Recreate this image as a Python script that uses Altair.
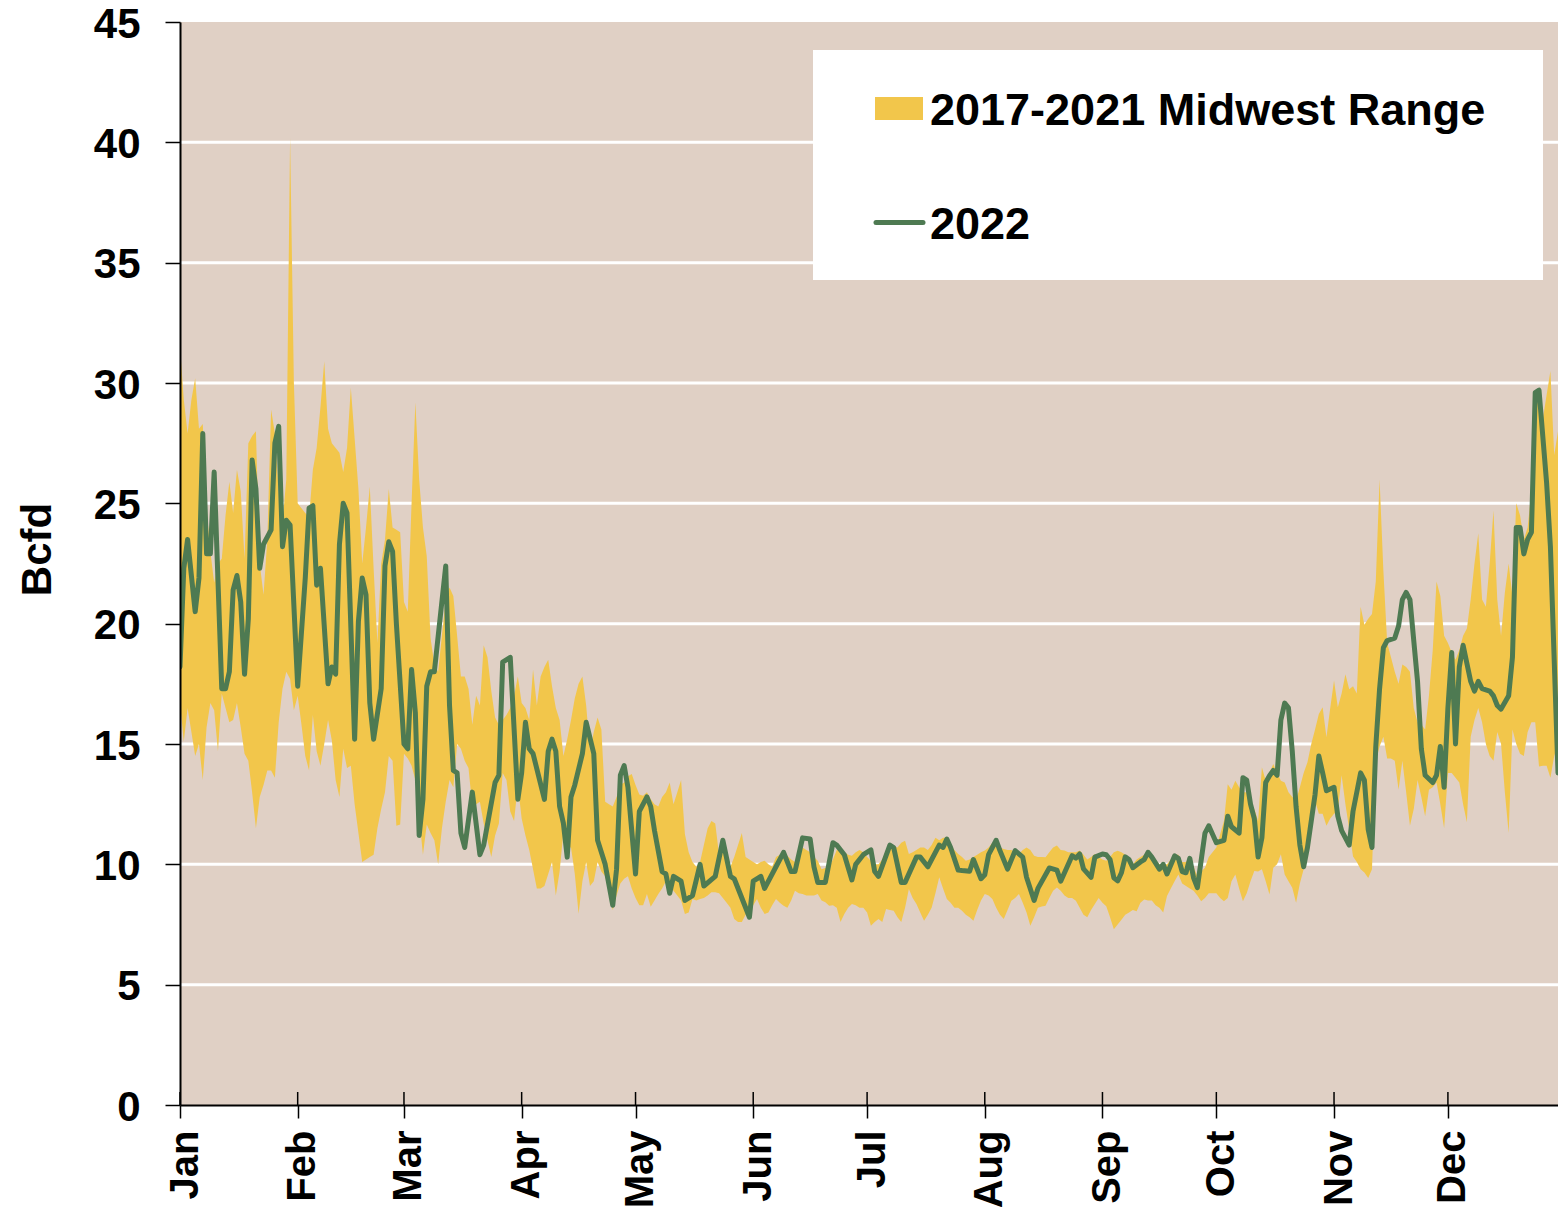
import json
import altair as alt
import pandas as pd

# ---------------- data ----------------
MONTHS = ["Jan", "Feb", "Mar", "Apr", "May", "Jun", "Jul", "Aug", "Sep", "Oct", "Nov", "Dec"]
MONTH_START_DAY = [0, 31, 59, 90, 120, 151, 181, 212, 243, 273, 304, 334]
Y_TICKS = [0, 5, 10, 15, 20, 25, 30, 35, 40, 45]
LEGEND_LABELS = ["2017-2021 Midwest Range", "2022"]

# 2022 daily series (day of year, Bcfd)
LINE_DAY = [0, 1, 2, 4, 5, 6, 7, 8, 9, 11, 12, 13, 14, 15, 16, 17, 18, 19, 20, 21, 22, 24, 25, 26, 27, 28, 29, 31,
            33, 34, 35, 36, 37, 39, 40, 41, 42, 43, 44, 46, 47, 48, 49, 50, 51, 53, 54, 55, 56, 57, 59, 60, 61, 62,
            63, 64, 65, 66, 67, 70, 71, 72, 73, 74, 75, 77, 79, 80, 83, 84, 85, 87, 89, 90, 91, 92, 93, 96, 97, 98,
            99, 100, 101, 102, 103, 104, 106, 107, 109, 110, 112, 114, 115, 116, 117, 118, 120, 121, 122, 123, 124,
            125, 127, 128, 129, 130, 132, 133, 135, 137, 138, 141, 143, 145, 146, 150, 151, 153, 154, 157, 159, 161,
            162, 164, 166, 167, 168, 170, 172, 173, 175, 177, 178, 180, 182, 183, 184, 187, 188, 190, 191, 194, 195,
            197, 200, 201, 202, 203, 205, 206, 208, 209, 211, 212, 213, 215, 216, 218, 220, 222, 223, 225, 226, 229,
            231, 232, 235, 236, 237, 238, 240, 241, 243, 244, 245, 246, 247, 248, 249, 250, 251, 253, 254, 255, 256,
            258, 259, 260, 262, 263, 264, 265, 266, 267, 268, 270, 271, 273, 275, 276, 277, 279, 280, 281, 282, 283,
            284, 285, 286, 287, 288, 289, 290, 291, 292, 293, 294, 295, 296, 297, 299, 300, 301, 302, 304, 305, 306,
            308, 309, 311, 312, 313, 314, 315, 316, 317, 318, 320, 321, 322, 323, 324, 326, 327, 328, 330, 331, 332,
            333, 334, 335, 336, 337, 338, 340, 341, 342, 343, 345, 346, 347, 348, 350, 351, 352, 353, 354, 355, 356,
            357, 358, 360, 361, 363, 364, 365]
LINE_BCFD = [18.2, 22.3, 23.5, 20.5, 21.9, 27.9, 22.9, 22.9, 26.3, 17.3, 17.3, 18.0, 21.4, 22.0, 20.9, 17.9, 20.2,
             26.8, 25.6, 22.3, 23.3, 23.9, 27.5, 28.2, 23.2, 24.3, 24.1, 17.4, 21.9, 24.8, 24.9, 21.6, 22.3, 17.5,
             18.2, 17.9, 23.3, 25.0, 24.6, 15.2, 20.1, 21.9, 21.2, 16.7, 15.2, 17.3, 22.4, 23.4, 23.0, 20.0, 15.0,
             14.8, 18.1, 16.3, 11.2, 12.7, 17.4, 18.0, 18.0, 22.4, 16.6, 13.9, 13.8, 11.3, 10.7, 13.0, 10.4, 10.8,
             13.4, 13.7, 18.4, 18.6, 12.7, 13.8, 15.9, 14.8, 14.6, 12.7, 14.7, 15.2, 14.7, 12.4, 11.7, 10.3, 12.8,
             13.3, 14.6, 15.9, 14.6, 11.0, 10.0, 8.3, 9.8, 13.7, 14.1, 13.2, 9.6, 12.2, 12.5, 12.8, 12.4, 11.4, 9.7,
             9.6, 8.8, 9.5, 9.3, 8.5, 8.7, 10.0, 9.1, 9.5, 11.0, 9.5, 9.4, 7.8, 9.3, 9.5, 9.0, 9.9, 10.5, 9.7, 9.7,
             11.1, 11.05, 9.9, 9.25, 9.25, 10.9, 10.8, 10.4, 9.35, 10.0, 10.4, 10.6, 9.7, 9.5, 10.8, 10.7, 9.25,
             9.25, 10.3, 10.3, 9.9, 10.8, 10.7, 11.05, 10.7, 9.76, 9.74, 9.71, 10.2, 9.4, 9.57, 10.4, 11.0, 10.57,
             9.8, 10.57, 10.3, 9.46, 8.5, 9.0, 9.85, 9.76, 9.3, 10.36, 10.26, 10.43, 9.81, 9.46, 10.3, 10.43, 10.4,
             10.2, 9.44, 9.31, 9.65, 10.31, 10.2, 9.86, 10.1, 10.2, 10.5, 10.3, 9.8, 10.0, 9.6, 10.35, 10.25, 9.7,
             9.65, 10.25, 9.44, 9.03, 11.3, 11.6, 10.9, 11.0, 12.0, 11.56, 11.3, 13.6, 13.5, 12.5, 11.9, 10.3, 11.1,
             13.4, 13.68, 13.9, 13.7, 16.0, 16.7, 16.5, 14.7, 12.4, 10.8, 9.9, 10.7, 12.9, 14.5, 13.8, 13.06, 13.2,
             12.0, 11.4, 10.8, 12.2, 13.8, 13.5, 11.45, 10.7, 14.9, 17.3, 19.0, 19.3, 19.4, 19.9, 21.0, 21.3, 21.0,
             17.6, 14.8, 13.7, 13.4, 13.7, 14.9, 13.2, 16.5, 18.8, 15.0, 18.2, 19.1, 17.6, 17.2, 17.6, 17.3, 17.2,
             17.0, 16.6, 16.45, 17.0, 18.6, 24.0, 24.0, 22.9, 23.5, 23.8, 29.6, 29.7, 25.85, 23.2, 13.8, 14.0, 15.5]

# 2017-2021 range (daily max / min)
BAND_DAY = list(range(366))
BAND_HIGH = [31.5, 29.3, 27.9, 29.3, 30.2, 28.1, 28.3, 24.8, 23.0, 21.7, 22.5, 22.7, 24.5, 25.9, 24.6, 26.4, 25.5,
             22.7, 27.5, 27.8, 28.0, 22.5, 21.2, 23.5, 28.9, 27.9, 25.5, 24.2, 26.0, 40.2, 30.0, 25.0, 24.8, 24.6,
             24.4, 26.4, 27.3, 29.0, 30.9, 28.1, 27.5, 27.3, 27.1, 26.3, 27.3, 29.8, 27.7, 25.6, 22.5, 24.0, 25.7,
             22.3, 19.2, 22.5, 23.5, 25.6, 24.0, 23.9, 23.8, 20.9, 20.5, 25.0, 29.2, 26.0, 24.0, 22.8, 19.4, 18.3,
             18.0, 19.5, 21.0, 21.5, 21.15, 19.5, 17.8, 17.8, 17.3, 15.8, 17.0, 16.6, 19.1, 18.6, 17.2, 16.1, 15.8,
             16.0, 16.2, 16.5, 17.0, 17.8, 16.7, 16.5, 16.0, 18.1, 16.6, 17.8, 18.2, 18.5, 17.4, 16.5, 16.0, 14.5,
             15.2, 16.0, 16.9, 17.5, 17.8, 16.6, 14.7, 15.5, 16.1, 15.6, 12.6, 12.5, 12.4, 12.8, 13.3, 13.4, 13.66,
             13.75, 13.3, 12.9, 12.85, 13.0, 12.7, 12.5, 12.4, 12.8, 13.0, 13.4, 12.5, 13.0, 13.5, 11.26, 10.5, 10.1,
             9.9, 10.1, 10.8, 11.5, 11.8, 11.7, 10.4, 10.6, 10.2, 9.9, 10.3, 10.8, 11.3, 10.3, 10.2, 10.1, 10.0, 10.1,
             10.15, 10.0, 9.9, 10.3, 10.4, 10.4, 10.36, 10.2, 10.1, 10.4, 10.7, 10.6, 10.5, 10.3, 10.15, 9.8, 9.85,
             9.9, 10.2, 10.6, 10.57, 10.5, 10.4, 10.36, 10.5, 10.6, 10.5, 10.3, 10.15, 10.0, 10.0, 10.2, 10.6, 10.8,
             10.75, 10.7, 10.9, 10.98, 10.43, 10.5, 10.6, 10.7, 10.7, 10.6, 10.8, 11.1, 11.0, 11.1, 11.1, 10.8, 10.6,
             10.43, 10.3, 10.15, 10.2, 10.3, 10.4, 10.5, 10.57, 10.7, 10.9, 10.8, 10.7, 10.64, 10.6, 10.6, 10.5,
             10.43, 10.6, 10.7, 10.6, 10.36, 10.3, 10.3, 10.29, 10.5, 10.7, 10.78, 10.6, 10.57, 10.5, 10.5, 10.5,
             10.57, 10.4, 10.2, 10.3, 10.43, 10.3, 10.2, 10.15, 10.3, 10.5, 10.56, 10.5, 10.4, 10.2, 10.0, 10.2,
             10.3, 10.4, 10.5, 10.4, 10.2, 10.0, 10.0, 10.0, 10.2, 10.4, 10.4, 10.1, 10.1, 10.3, 9.9, 9.5, 9.7, 9.86,
             10.3, 10.5, 10.7, 11.25, 11.8, 13.33, 13.1, 13.47, 13.2, 13.0, 13.0, 12.5, 12.3, 11.8, 14.03, 13.47,
             13.8, 14.17, 13.8, 13.47, 13.4, 13.0, 12.8, 12.64, 13.2, 13.8, 14.24, 15.0, 15.6, 16.25, 16.53, 15.28,
             16.5, 17.64, 16.53, 17.1, 17.9, 17.27, 17.4, 17.1, 20.7, 19.96, 20.2, 20.4, 21.75, 26.0, 22.2, 19.2,
             18.6, 18.0, 17.5, 18.3, 18.2, 18.0, 16.5, 15.9, 15.8, 15.6, 17.0, 18.9, 21.75, 21.15, 19.5, 19.2, 18.8,
             18.5, 18.9, 19.5, 19.8, 21.0, 22.5, 23.76, 21.0, 20.7, 22.5, 24.7, 21.0, 19.5, 21.3, 22.5, 21.15, 25.0,
             24.5, 23.5, 24.0, 25.5, 29.5, 29.0, 28.5, 29.5, 30.5, 27.0, 28.0, 29.1, 29.4]
BAND_LOW = [16.7, 15.1, 16.5, 15.5, 14.5, 15.0, 13.5, 15.7, 16.7, 16.4, 14.7, 17.1, 16.5, 15.9, 16.0, 16.7, 15.7,
            14.6, 14.3, 13.0, 11.5, 12.8, 13.3, 13.9, 13.9, 13.6, 15.9, 17.3, 18.0, 17.7, 16.4, 17.0, 15.8, 14.5,
            13.9, 16.2, 14.7, 14.1, 15.0, 16.0, 15.15, 13.5, 12.8, 14.8, 14.0, 14.1, 12.5, 11.3, 10.1, 10.2, 10.3,
            10.4, 11.5, 12.3, 13.0, 14.5, 14.3, 11.6, 11.65, 14.6, 14.4, 14.1, 13.5, 12.0, 10.4, 11.65, 11.3, 11.0,
            10.0, 11.5, 12.6, 13.5, 13.2, 15.0, 14.8, 14.3, 14.0, 12.4, 12.5, 12.6, 11.7, 11.0, 10.3, 11.2, 11.7,
            13.8, 13.5, 12.2, 11.8, 13.3, 11.9, 11.2, 10.6, 9.8, 9.0, 9.0, 9.1, 9.6, 10.1, 8.7, 9.7, 11.35, 10.7,
            10.7, 9.6, 7.95, 9.3, 10.1, 9.1, 9.3, 10.1, 9.7, 9.5, 8.8, 8.1, 8.7, 9.2, 9.4, 9.5, 9.0, 8.6, 8.3, 8.3,
            8.77, 8.24, 8.5, 8.77, 9.0, 9.3, 9.2, 8.9, 8.7, 8.5, 7.94, 8.0, 8.56, 8.5, 8.56, 8.6, 8.7, 8.84, 8.84,
            8.8, 8.6, 8.4, 8.2, 7.73, 7.6, 7.6, 7.9, 8.07, 8.3, 8.56, 8.2, 7.94, 8.0, 8.3, 8.56, 8.4, 8.28, 8.2, 8.5,
            8.9, 8.8, 8.77, 8.7, 8.7, 8.7, 8.77, 8.5, 8.42, 8.28, 8.3, 8.2, 7.6, 7.94, 8.2, 8.35, 8.3, 8.2, 8.2, 8.0,
            7.45, 7.6, 7.73, 7.6, 8.14, 8.1, 8.07, 7.8, 7.6, 8.2, 8.98, 8.6, 8.35, 8.0, 7.66, 7.9, 8.2, 8.8, 9.46,
            9.0, 8.56, 8.4, 8.2, 8.2, 8.07, 7.9, 7.8, 7.66, 8.1, 8.5, 8.77, 8.7, 8.56, 8.2, 7.9, 7.73, 8.1, 8.49,
            8.6, 8.77, 8.4, 8.0, 7.45, 7.8, 8.2, 8.25, 8.28, 8.6, 8.9, 9.04, 8.9, 8.7, 8.6, 8.6, 8.49, 8.2, 7.9, 7.8,
            8.1, 8.35, 8.6, 8.4, 8.26, 7.8, 7.3, 7.5, 7.7, 7.9, 8.0, 8.1, 8.05, 8.4, 8.54, 8.5, 8.5, 8.3, 8.2, 8.0,
            8.68, 9.0, 9.3, 9.58, 9.2, 9.1, 9.0, 8.9, 8.7, 8.47, 8.6, 8.8, 8.8, 8.8, 8.6, 8.47, 8.6, 9.3, 9.58, 9.0,
            8.47, 8.8, 9.3, 9.72, 9.7, 9.8, 9.3, 8.75, 9.86, 10.0, 10.42, 9.58, 9.3, 9.03, 8.4, 9.2, 9.8, 10.7, 11.8,
            12.64, 12.1, 12.1, 11.6, 11.9, 12.1, 12.2, 13.7, 12.5, 11.45, 10.33, 10.1, 9.8, 9.66, 9.43, 9.8, 14.3,
            14.9, 15.3, 14.4, 14.4, 14.3, 13.1, 14.3, 13.0, 11.6, 12.3, 13.5, 12.8, 12.0, 13.1, 13.2, 13.4, 12.5,
            11.5, 13.8, 13.8, 13.6, 13.4, 12.5, 11.75, 15.3, 16.0, 16.5, 15.9, 15.0, 14.5, 14.3, 15.5, 15.0, 13.0,
            11.3, 15.6, 15.0, 14.6, 14.5, 15.5, 15.9, 15.9, 14.06, 14.1, 14.1, 13.6, 14.5, 15.0, 16.2, 16.2]

# ---------------- styling ----------------
W, H = 1378, 1083
X_MAX = 363          # the reference is cut at the right page edge
BG = "#E0D0C5"
YELLOW = "#F2C64B"
GREEN = "#4E7A52"
FONT = "Liberation Sans, Arial, sans-serif"

band_df = pd.DataFrame({"day": BAND_DAY, "high": BAND_HIGH, "low": BAND_LOW})
line_df = pd.DataFrame({"day": LINE_DAY, "bcfd": LINE_BCFD})
grid_df = pd.DataFrame({"v": [v for v in Y_TICKS if 0 < v < max(Y_TICKS)]})
tick_df = pd.DataFrame({"day": MONTH_START_DAY})
one_df = pd.DataFrame({"k": [0]})
leg1_df = pd.DataFrame({"label": [LEGEND_LABELS[0]]})
leg2_df = pd.DataFrame({"label": [LEGEND_LABELS[1]]})

x_scale = alt.Scale(domain=[0, X_MAX], nice=False, zero=False)
y_scale = alt.Scale(domain=[0, 45], nice=False, zero=True)

label_expr = f"{json.dumps(MONTHS)}[indexof({json.dumps(MONTH_START_DAY)}, datum.value)]"

x_axis = alt.Axis(
    values=MONTH_START_DAY, labelExpr=label_expr, grid=False,
    domainColor="black", domainWidth=2, tickColor="black", tickWidth=1.5, tickSize=13,
    labelAngle=270, labelAlign="right", labelBaseline="middle", labelOffset=5,
    labelFont=FONT, labelFontSize=40, labelFontWeight="bold", labelColor="black",
    labelPadding=12, labelFlush=False, labelOverlap=False, labelBound=False, zindex=2,
)
y_axis = alt.Axis(
    values=Y_TICKS, grid=False,
    domainColor="black", domainWidth=2, tickColor="black", tickWidth=1.5, tickSize=15,
    labelFont=FONT, labelFontSize=42, labelFontWeight="bold", labelColor="black",
    labelPadding=25, labelOverlap=False, labelFlush=False, labelOffset=2,
    titleFont=FONT, titleFontSize=42, titleFontWeight="bold", titleColor="black",
    titleX=-130, titleY=527, titleBaseline="alphabetic", titleAlign="center", zindex=2,
)

X = lambda f: alt.X(f, type="quantitative", scale=x_scale, axis=x_axis, title=None)
Y = lambda f: alt.Y(f, type="quantitative", scale=y_scale, axis=y_axis, title="Bcfd")

grid = alt.Chart(grid_df).mark_rule(color="white", strokeWidth=3).encode(y=Y("v"))

band = alt.Chart(band_df).mark_area(color=YELLOW, opacity=1, interpolate="linear", clip=True).encode(
    x=X("day"), y=Y("high"), y2="low:Q"
)

line = alt.Chart(line_df).mark_line(
    color=GREEN, strokeWidth=5, strokeJoin="round", strokeCap="round", clip=True
).encode(x=X("day"), y=Y("bcfd"))

inner_ticks = alt.Chart(tick_df).mark_rule(color="black", strokeWidth=1.5).encode(
    x=X("day"), y=alt.value(H - 13), y2=alt.value(H)
)

legend_box = alt.Chart(one_df).mark_rect(fill="white").encode(
    x=alt.value(633), x2=alt.value(1363), y=alt.value(28), y2=alt.value(258)
)
legend_swatch = alt.Chart(one_df).mark_rect(fill=YELLOW).encode(
    x=alt.value(695), x2=alt.value(743), y=alt.value(75), y2=alt.value(98)
)
legend_line = alt.Chart(one_df).mark_rule(color=GREEN, strokeWidth=5, strokeCap="round").encode(
    x=alt.value(696), x2=alt.value(743), y=alt.value(200.5)
)
legend_text_style = dict(align="left", baseline="alphabetic", font=FONT, fontSize=45,
                         fontWeight="bold", color="black")
legend_t1 = alt.Chart(leg1_df).mark_text(**legend_text_style).encode(
    x=alt.value(750), y=alt.value(103), text="label:N"
)
legend_t2 = alt.Chart(leg2_df).mark_text(**legend_text_style).encode(
    x=alt.value(750), y=alt.value(217), text="label:N"
)

chart = alt.layer(
    grid, band, line, inner_ticks, legend_box, legend_swatch, legend_line, legend_t1, legend_t2
).properties(
    width=W, height=H,
    autosize=alt.AutoSizeParams(type="none"),
    padding={"left": 172, "top": 14, "right": 0, "bottom": 102},
).configure_view(fill=BG, strokeWidth=0)

chart.save("out.html", embed_options={"renderer": "svg", "actions": False})
